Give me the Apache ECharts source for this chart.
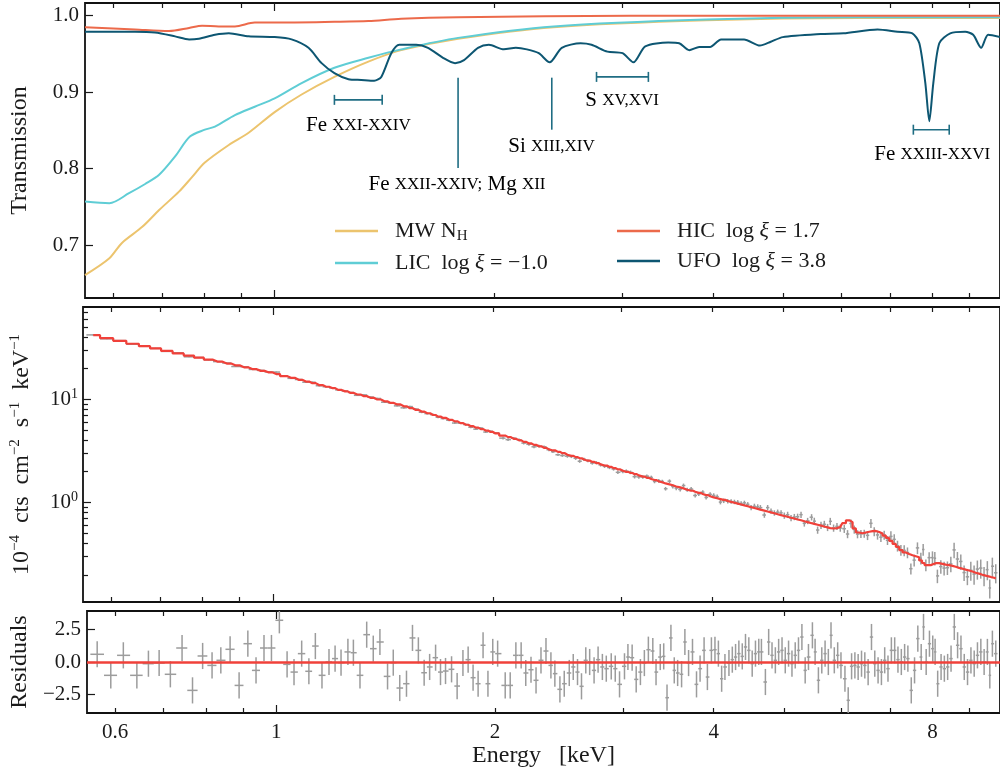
<!DOCTYPE html>
<html>
<head>
<meta charset="utf-8">
<script src="https://cdn.jsdelivr.net/npm/echarts@6/dist/echarts.min.js"></script>
<style>
  html, body { margin: 0; background: #fff; }
  #chart { width: 1000px; height: 773px; }
</style>
</head>
<body>
<div id="chart"></div>
<script>
// ---- transmission of the absorbers (energy in keV) ----
var mwE  = [0.549,0.593,0.617,0.658,0.694,0.739,0.770,0.802,0.865,0.921,1.0,1.089,1.208,1.345,1.492,1.786,2.416,3.913,6.336,9.91];
var mwT  = [0.661,0.683,0.703,0.724,0.746,0.770,0.789,0.808,0.831,0.847,0.874,0.897,0.920,0.940,0.955,0.970,0.985,0.994,0.997,0.997];
var licE = [0.549,0.593,0.631,0.664,0.694,0.730,0.765,0.802,0.828,0.882,0.939,1.0,1.089,1.208,1.345,1.492,1.786,2.416,3.913,6.336,9.91];
var licT = [0.757,0.755,0.768,0.780,0.792,0.816,0.842,0.851,0.855,0.870,0.881,0.892,0.912,0.932,0.945,0.956,0.971,0.986,0.995,0.998,0.998];
var hicE = [0.549,0.643,0.716,0.763,0.795,0.838,0.882,0.939,1.0,1.208,1.345,1.492,1.786,3.08,9.91];
var hicT = [0.985,0.982,0.980,0.984,0.987,0.986,0.986,0.991,0.991,0.992,0.993,0.996,0.998,1.000,1.000];
var ufoE = [0.549,0.643,0.685,0.730,0.763,0.787,0.828,0.865,0.921,1.0,1.055,1.113,1.160,1.208,1.263,1.315,1.370,1.401,1.446,1.483,
            1.565,1.624,1.703,1.769,1.820,1.902,1.969,2.064,2.144,2.220,2.305,2.386,2.479,2.631,2.724,2.864,3.004,3.109,3.228,3.471,
            3.594,3.709,3.828,3.962,4.102,4.411,4.638,4.801,4.986,5.622,6.043,6.728,7.167,7.511,7.679,7.826,7.925,8.026,8.179,8.467,
            8.878,9.104,9.337,9.545,9.91];
var ufoT = [0.979,0.979,0.978,0.973,0.969,0.970,0.975,0.977,0.973,0.972,0.969,0.958,0.938,0.925,0.917,0.916,0.915,0.920,0.951,0.962,
            0.962,0.958,0.945,0.938,0.942,0.958,0.962,0.956,0.958,0.956,0.951,0.939,0.958,0.964,0.962,0.953,0.951,0.939,0.960,0.965,
            0.964,0.955,0.959,0.959,0.969,0.969,0.961,0.966,0.972,0.976,0.977,0.982,0.979,0.977,0.964,0.912,0.862,0.912,0.964,0.977,
            0.979,0.975,0.958,0.975,0.972];

// ---- line annotations in the top panel ----
var annoText = ['{n|Fe }{c|XXI-XXIV}', '{n|Fe }{c|XXII-XXIV;}{m| Mg }{mc|XII}', '{n|Si }{c|XIII,XIV}', '{n|S }{c|XV,XVI}', '{n|Fe }{c|XXIII-XXVI}'];
var annoKind = ['bracket', 'line', 'line', 'bracket', 'bracket'];
var annoX1 = [1.208, 1.786, 2.402, 2.767, 7.535];
var annoX2 = [1.405, 1.786, 2.402, 3.26, 8.44];
var annoY1 = [0.890, 0.919, 0.919, 0.920, 0.851];
var annoY2 = [0.890, 0.801, 0.851, 0.920, 0.851];
var annoTx = [1.303, 1.78, 2.40, 3.0, 8.0];
var annoTy = [0.856, 0.779, 0.829, 0.889, 0.818];

// ---- spectrum: bin centres (keV), model, data, relative error, residuals ----
var specE = [0.567,0.592,0.616,0.643,0.667,0.690,0.715,0.742,0.767,0.792,0.816,0.839,0.864,0.889,0.914,0.938,0.962,0.985,
  1.010,1.035,1.058,1.084,1.109,1.132,1.156,1.182,1.205,1.228,1.255,1.277,1.304,1.332,1.360,1.389,1.423,1.449,1.479,
  1.511,1.540,1.569,1.598,1.626,1.657,1.683,1.710,1.743,1.774,1.807,1.837,1.866,1.896,1.926,1.956,1.986,2.017,
  2.066,2.099,2.137,2.173,2.205,2.242,2.278,2.314,2.351,2.388,2.418,2.457,2.491,2.531,2.563,2.598,2.631,2.667,2.700,2.738,
  2.773,2.811,2.846,2.891,2.928,2.968,3.015,3.048,3.089,3.129,3.171,3.211,3.252,3.298,3.332,3.377,3.414,3.450,3.493,3.530,
  3.568,3.613,3.651,3.694,3.740,3.788,3.831,3.880,3.921,3.971,4.016,4.060,4.102,4.145,4.198,4.243,4.287,4.332,4.379,4.424,
  4.471,4.519,4.566,4.614,4.653,4.712,4.761,4.812,4.863,4.914,4.967,5.018,5.071,5.126,5.179,5.233,5.290,5.345,5.401,5.469,
  5.516,5.574,5.634,5.693,5.752,5.801,5.862,5.925,5.987,6.063,6.126,6.192,6.257,6.322,6.390,6.457,6.525,6.595,6.664,6.734,
  6.806,6.877,6.949,7.024,7.098,7.172,7.249,7.325,7.401,7.481,7.559,7.638,7.720,7.777,7.843,7.925,8.008,8.068,8.134,8.222,
  8.308,8.395,8.486,8.574,8.664,8.757,8.849,8.941,9.038,9.132,9.227,9.326,9.424,9.522,9.595,9.674,9.778];
var specModel = [41.6,38.9,36.7,34.4,32.6,31.0,29.3,27.7,26.4,25.2,24.1,23.1,22.1,21.2,20.3,19.5,18.8,18.2,
  17.5,16.7,16.1,15.4,14.8,14.3,13.7,13.2,12.8,12.3,11.9,11.5,11.1,10.7,10.3,9.93,9.51,9.20,8.89,
  8.53,8.18,7.87,7.59,7.31,7.03,6.79,6.58,6.32,6.10,5.87,5.66,5.48,5.31,5.13,4.97,4.82,4.66,
  4.44,4.29,4.13,3.99,3.86,3.73,3.61,3.50,3.38,3.27,3.19,3.09,3.00,2.90,2.83,2.75,2.68,2.61,2.54,2.47,
  2.41,2.34,2.28,2.21,2.15,2.09,2.03,1.98,1.93,1.88,1.83,1.78,1.73,1.69,1.65,1.60,1.57,1.53,1.50,1.47,
  1.43,1.40,1.37,1.33,1.30,1.27,1.24,1.21,1.18,1.15,1.12,1.10,1.08,1.06,1.035,1.014,0.995,0.975,0.957,0.938,
  0.920,0.902,0.885,0.867,0.853,0.834,0.818,0.802,0.787,0.771,0.755,0.741,0.728,0.713,0.700,0.686,0.673,0.659,0.647,0.631,
  0.622,0.610,0.598,0.586,0.575,0.566,0.561,0.565,0.579,0.631,0.673,0.646,0.562,0.513,0.504,0.513,0.521,0.528,0.531,0.519,
  0.501,0.479,0.454,0.425,0.398,0.373,0.347,0.329,0.318,0.309,0.302,0.295,0.275,0.260,0.248,0.248,0.254,0.259,0.259,0.255,
  0.251,0.248,0.244,0.239,0.233,0.229,0.224,0.220,0.215,0.209,0.205,0.200,0.196,0.193,0.190,0.187,0.184];
var specData = [41.9,38.4,36.9,34.0,32.5,31.0,29.0,28.1,25.7,25.3,24.0,23.1,22.4,20.7,20.6,19.4,19.0,18.4,
  18.3,16.7,15.9,15.5,14.6,14.6,13.5,13.2,12.85,12.3,12.0,11.6,10.9,11.0,10.5,10.16,9.35,9.19,8.62,
  8.25,8.48,8.01,7.47,7.25,7.08,6.69,6.49,6.25,5.88,5.86,5.68,5.35,5.13,5.26,4.81,4.89,4.72,
  4.20,4.06,4.19,4.05,3.76,3.66,3.46,3.51,3.46,3.24,3.10,2.90,2.85,2.81,2.79,2.68,2.51,2.62,2.54,2.41,
  2.43,2.31,2.24,2.18,2.11,1.96,2.00,2.01,1.96,1.78,1.77,1.77,1.80,1.75,1.60,1.62,1.60,1.36,1.61,1.43,
  1.38,1.34,1.46,1.33,1.35,1.17,1.21,1.26,1.12,1.20,1.17,1.14,1.01,1.04,1.03,1.023,1.014,1.006,0.978,0.992,
  0.961,0.895,0.919,0.907,0.892,0.757,0.893,0.827,0.793,0.807,0.795,0.748,0.761,0.707,0.725,0.729,0.763,0.629,0.664,0.721,
  0.660,0.542,0.604,0.616,0.575,0.658,0.567,0.588,0.567,0.558,0.496,0.627,0.549,0.495,0.498,0.501,0.481,0.629,0.524,0.486,
  0.462,0.485,0.431,0.470,0.440,0.381,0.347,0.344,0.328,0.229,0.277,0.364,0.289,0.351,0.248,0.293,0.293,0.289,0.195,0.240,
  0.232,0.234,0.255,0.348,0.284,0.269,0.210,0.191,0.221,0.203,0.227,0.232,0.196,0.224,0.149,0.242,0.209];
var specRelErr = [0.012,0.012,0.012,0.012,0.012,0.012,0.012,0.012,0.012,0.012,0.012,0.012,0.012,0.012,0.012,0.012,0.012,0.012,
  0.015,0.015,0.015,0.015,0.015,0.015,0.015,0.015,0.015,0.015,0.015,0.015,0.015,0.015,0.015,0.015,0.015,0.015,0.015,
  0.02,0.02,0.02,0.02,0.02,0.02,0.02,0.02,0.02,0.02,0.02,0.02,0.02,0.02,0.02,0.02,0.02,0.02,
  0.03,0.03,0.03,0.03,0.03,0.03,0.03,0.03,0.03,0.03,0.03,0.03,0.03,
  0.035,0.035,0.035,0.035,0.035,0.035,0.035,0.035,0.035,0.035,0.035,0.035,0.035,
  0.04,0.04,0.04,0.04,0.04,0.04,0.04,0.04,0.04,0.04,0.04,0.04,0.04,
  0.045,0.045,0.045,0.045,0.045,0.045,0.045,0.045,0.045,0.045,0.045,
  0.05,0.05,0.05,0.05,0.05,0.05,0.05,0.05,0.05,0.05,0.05,
  0.06,0.06,0.06,0.06,0.06,0.06,0.06,0.06,0.06,0.06,
  0.07,0.07,0.07,0.07,0.07,0.07,0.07,0.07,0.07,
  0.08,0.08,0.08,0.08,0.08,0.08,0.08,0.08,0.08,
  0.09,0.09,0.09,0.09,0.09,0.09,0.09,
  0.10,0.10,0.10,0.10,0.10,0.10,0.10,
  0.12,0.12,0.12,0.12,0.12,0.12,0.12,
  0.13,0.13,0.13,0.13,0.13,0.13,
  0.15,0.15,0.15,0.15,0.15,0.15,
  0.17,0.17,0.17,0.17,0.17,0.17,
  0.21,0.21,0.21,0.21,0.21,0.21,0.21,0.21,0.21];
var resid = [0.59,-1.02,0.51,-1.02,-0.13,-0.08,-0.94,1.07,-2.17,0.46,-0.26,0.13,0.97,-1.79,1.40,-0.64,1.07,1.07,
  3.19,-0.18,-0.77,0.64,-0.71,1.22,-1.02,0,0.26,-0.05,0.77,0.71,-1.02,2.09,1.02,1.53,-1.10,-0.05,-1.99,
  -1.66,1.84,0.89,-0.82,-0.38,0.33,-0.77,-0.69,-0.56,-1.84,-0.08,0.18,-1.20,-1.66,1.28,-1.66,0.77,0.64,
  -1.79,-1.79,0.51,0.51,-0.84,-0.59,-1.40,0.13,0.84,-0.26,-0.89,-2.09,-1.66,-0.84,-0.38,-0.77,-1.86,0.13,0,-0.64,
  0.18,-0.38,-0.51,-0.33,-0.51,-1.71,-0.33,0.38,0.33,-1.33,-0.77,-0.08,0.94,0.84,-0.77,0.38,0.43,-2.73,1.84,-0.64,
  -0.84,-0.94,1.53,-0.08,0.77,-1.71,-0.51,0.89,-1.15,0.89,0.94,0.64,-1.28,-0.38,-0.08,0.18,0.38,0.64,0.43,1.15,
  0.89,-0.13,0.64,0.77,0.77,-1.53,1.53,0.51,0.13,0.77,0.89,0.13,0.64,-0.13,0.51,0.89,1.91,-0.64,0.38,2.04,
  0.77,-1.40,0.13,0.64,0,2.04,0.13,0.51,-0.26,-1.28,-2.93,-0.33,-0.26,-0.38,-0.13,-0.26,-0.77,1.91,-0.13,-0.64,
  -0.77,0.13,-0.51,0.89,0.89,0.18,0,0.38,0.26,-2.17,-0.64,1.79,0.38,2.68,0,1.40,1.02,0.77,-1.66,-0.38,
  -0.51,-0.38,0.26,2.68,1.28,1.02,-0.38,-0.77,0.13,-0.13,0.51,0.77,0,0.77,-1.02,1.40,0.64];

// ---- ticks ----
var xMajor = [1];
var xMinor = [0.6,0.7,0.8,0.9,2,3,4,5,6,7,8,9];
var xLabels = [0.6,1,2,4,8];
var yT = [0.7,0.8,0.9,1.0];
var ySpecMajor = [1,10];
var ySpecMinor = [0.2,0.3,0.4,0.5,0.6,0.7,0.8,0.9,2,3,4,5,6,7,8,9,20,30,40,50,60,70];
var yRes = [-2.5,0,2.5];

var LG = Math.log10;
var FONT = 'Liberation Serif';
var INK = '#1a1a1a';
var GRAY = '#9c9c9c';
var RED = '#f0413a';
var xMin = LG(0.549), xMax = LG(9.91);
var grids = [
  {left: 83, right: -1, top: 3, height: 295},
  {left: 83, right: -1, top: 307, height: 295},
  {left: 83, right: -1, top: 611, height: 102}
];

function tickStyle(len, vals) {
  return {show: true, inside: true, length: len, customValues: vals, lineStyle: {color: INK, width: 1.2}};
}

var xAxes = [];
grids.forEach(function (g, gi) {
  ['bottom', 'top'].forEach(function (pos) {
    [true, false].forEach(function (major) {
      var ax = {
        type: 'value', gridIndex: gi, position: pos, min: xMin, max: xMax,
        axisLine: {show: false, onZero: false}, splitLine: {show: false},
        axisTick: major ? tickStyle(8, xMajor.map(LG)) : tickStyle(5, xMinor.map(LG)),
        axisLabel: {show: false}
      };
      if (gi === 2 && pos === 'bottom' && major) {
        ax.axisLabel = {
          show: true, margin: 9, fontSize: 21, color: INK, fontFamily: FONT,
          customValues: xLabels.map(LG),
          formatter: function (v) { return String(+Math.pow(10, v).toPrecision(2)); }
        };
        ax.name = 'Energy   [keV]';
        ax.nameLocation = 'middle';
        ax.nameGap = 27;
        ax.nameTextStyle = {fontSize: 24, color: INK, fontFamily: FONT};
      }
      xAxes.push(ax);
    });
  });
});

function yBase(gi, min, max) {
  return {type: 'value', gridIndex: gi, position: 'left', min: min, max: max,
    axisLine: {show: false, onZero: false}, splitLine: {show: false}};
}
var yAxes = [
  Object.assign(yBase(0, 0.631, 1.0166), {
    axisTick: tickStyle(8, yT),
    axisLabel: {margin: 6, fontSize: 21, color: INK, fontFamily: FONT, customValues: yT,
      formatter: function (v) { return v.toFixed(1); }},
    name: 'Transmission', nameLocation: 'middle', nameGap: 53, nameRotate: 90,
    nameTextStyle: {fontSize: 24, color: INK, fontFamily: FONT}
  }),
  Object.assign(yBase(0, 0.631, 1.0166), {show: false}),
  Object.assign(yBase(1, LG(0.109), LG(78)), {
    axisTick: tickStyle(8, ySpecMajor.map(LG)),
    axisLabel: {margin: 5, color: INK, fontFamily: FONT, customValues: ySpecMajor.map(LG),
      formatter: function (v) { return '{b|10}{s|' + Math.round(v) + '}'; },
      rich: {b: {fontSize: 21, lineHeight: 24, fontFamily: FONT, color: INK},
             s: {fontSize: 14, lineHeight: 14, verticalAlign: 'top', fontFamily: FONT, color: INK}}},
    name: '{t|10}{s|\u22124}{t|\u2002cts\u2002cm}{s|\u22122}{t|\u2002s}{s|\u22121}{t|\u2002keV}{s|\u22121}',
    nameLocation: 'middle', nameGap: 47, nameRotate: 90,
    nameTextStyle: {rich: {
      t: {fontSize: 24, lineHeight: 28, fontFamily: FONT, color: INK},
      s: {fontSize: 15, lineHeight: 15, verticalAlign: 'top', fontFamily: FONT, color: INK}}}
  }),
  Object.assign(yBase(1, LG(0.109), LG(78)), {axisTick: tickStyle(5, ySpecMinor.map(LG)), axisLabel: {show: false}}),
  Object.assign(yBase(2, -3.9, 3.9), {
    axisTick: tickStyle(8, yRes),
    axisLabel: {margin: 6, fontSize: 21, color: INK, fontFamily: FONT, customValues: yRes,
      formatter: function (v) { return (v < 0 ? '\u2212' : '') + Math.abs(v).toFixed(1); }},
    name: 'Residuals', nameLocation: 'middle', nameGap: 53, nameRotate: 90,
    nameTextStyle: {fontSize: 24, color: INK, fontFamily: FONT}
  }),
  Object.assign(yBase(2, -3.9, 3.9), {show: false})
];

function pairs(es, vs) { return es.map(function (e, i) { return [LG(e), vs[i]]; }); }

// horizontal extent of each bin, halfway (in log E) to the neighbours
var specU = specE.map(LG);
var binL = specU.map(function (u, i) { return i > 0 ? (u + specU[i - 1]) / 2 : u - (specU[1] - u) / 2; });
var binR = specU.map(function (u, i) { return i < specU.length - 1 ? (u + specU[i + 1]) / 2 : u + (u - specU[i - 1]) / 2; });

var specBars = specU.map(function (u, i) {
  var d = specData[i], e = specRelErr[i];
  return [u, LG(d * (1 - e)), LG(d * (1 + e)), LG(d), binL[i], binR[i]];
});
var resBars = specU.map(function (u, i) {
  return [u, resid[i] - 1, resid[i] + 1, resid[i], binL[i], binR[i]];
});

function errRender(params, api) {
  var a = api.coord([api.value(0), api.value(1)]);
  var b = api.coord([api.value(0), api.value(2)]);
  var c = api.coord([api.value(4), api.value(3)]);
  var d = api.coord([api.value(5), api.value(3)]);
  var st = {stroke: GRAY, lineWidth: 1.5};
  return {type: 'group', children: [
    {type: 'line', shape: {x1: a[0], y1: a[1], x2: b[0], y2: b[1]}, style: st},
    {type: 'line', shape: {x1: c[0], y1: c[1], x2: d[0], y2: d[1]}, style: st}
  ]};
}

var ANNO_LINE = '#1f6d83';
var ANNO_TXT = '#2f7d8f';
var annoRich = {
  n: {fontSize: 21, fontFamily: FONT, color: ANNO_TXT},
  c: {fontSize: 17, fontFamily: FONT, color: ANNO_TXT},
  m: {fontSize: 21, fontFamily: FONT, color: '#4da2b0'},
  mc: {fontSize: 17, fontFamily: FONT, color: '#4da2b0'}
};
function annoRender(params, api) {
  var i = params.dataIndex;
  var p1 = api.coord([LG(annoX1[i]), annoY1[i]]);
  var p2 = api.coord([LG(annoX2[i]), annoY2[i]]);
  var pt = api.coord([LG(annoTx[i]), annoTy[i]]);
  var st = {stroke: ANNO_LINE, lineWidth: 1.6};
  var kids = [{type: 'line', shape: {x1: p1[0], y1: p1[1], x2: p2[0], y2: p2[1]}, style: st}];
  if (annoKind[i] === 'bracket') {
    kids.push({type: 'line', shape: {x1: p1[0], y1: p1[1] - 5, x2: p1[0], y2: p1[1] + 5}, style: st});
    kids.push({type: 'line', shape: {x1: p2[0], y1: p2[1] - 5, x2: p2[0], y2: p2[1] + 5}, style: st});
  }
  kids.push({type: 'text', style: {text: annoText[i], x: pt[0], y: pt[1], align: 'center', verticalAlign: 'middle', rich: annoRich}});
  return {type: 'group', children: kids};
}

var legendNames = {
  MW: '{p|}{t|MW N}{s|H}',
  LIC: '{p|}{t|LIC  log }{i|\u03be}{t| = \u22121.0}',
  HIC: '{p|}{t|HIC  log }{i|\u03be}{t| = 1.7}',
  UFO: '{p|}{t|UFO  log }{i|\u03be}{t| = 3.8}'
};
var legendRich = {
  p: {width: 12},
  t: {fontSize: 22, lineHeight: 26, fontFamily: FONT, color: INK},
  i: {fontSize: 22, lineHeight: 26, fontFamily: FONT, fontStyle: 'italic', color: INK},
  s: {fontSize: 15, lineHeight: 15, verticalAlign: 'bottom', fontFamily: FONT, color: INK}
};
function legendAt(left, names) {
  return {
    data: names, orient: 'vertical', left: left, top: 215, itemGap: 8,
    icon: 'rect', itemWidth: 43, itemHeight: 2.5, selectedMode: false,
    formatter: function (n) { return legendNames[n]; },
    textStyle: {rich: legendRich}
  };
}

function curve(name, es, ts, color, sm) {
  return {name: name, type: 'line', xAxisIndex: 0, yAxisIndex: 0, data: pairs(es, ts),
    showSymbol: false, smooth: sm,
    lineStyle: {color: color, width: 2}, itemStyle: {color: color}};
}

var chart = echarts.init(document.getElementById('chart'));
chart.setOption({
  animation: false,
  textStyle: {fontFamily: FONT},
  grid: grids.map(function (g) {
    return Object.assign({show: true, borderColor: '#111', borderWidth: 1.8, backgroundColor: 'transparent'}, g);
  }),
  xAxis: xAxes,
  yAxis: yAxes,
  legend: [legendAt(330, ['MW', 'LIC']), legendAt(612, ['HIC', 'UFO'])],
  series: [
    curve('MW', mwE, mwT, '#ecc46e', 0.3),
    curve('LIC', licE, licT, '#5fcdd5', 0.3),
    curve('HIC', hicE, hicT, '#ec6a4b', 0.3),
    curve('UFO', ufoE, ufoT, '#0d5672', 0.25),
    {type: 'custom', xAxisIndex: 0, yAxisIndex: 0, silent: true, clip: false,
      data: annoX1.map(function (x, i) { return [LG(x), annoY1[i]]; }), renderItem: annoRender},
    {type: 'custom', xAxisIndex: 4, yAxisIndex: 2, silent: true, clip: true,
      data: specBars, renderItem: errRender},
    {type: 'line', xAxisIndex: 4, yAxisIndex: 2, step: 'middle', showSymbol: false, silent: true,
      data: specU.map(function (u, i) { return [u, LG(specModel[i])]; }),
      lineStyle: {color: RED, width: 2.2}},
    {type: 'custom', xAxisIndex: 8, yAxisIndex: 4, silent: true, clip: true,
      data: resBars, renderItem: errRender,
      markLine: {silent: true, symbol: ['none', 'none'], label: {show: false},
        lineStyle: {color: RED, width: 2.5, type: 'solid'}, data: [{yAxis: 0}]}}
  ]
});
</script>
</body>
</html>
